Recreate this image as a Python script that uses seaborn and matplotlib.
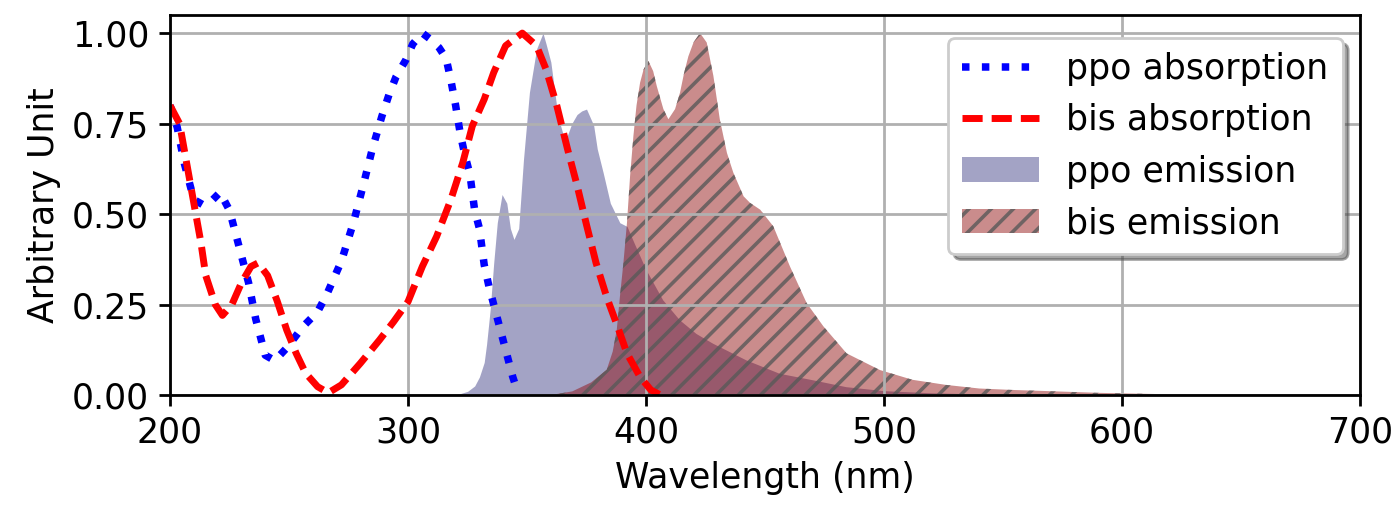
import numpy as np
import pandas as pd
import matplotlib
matplotlib.use("Agg")
import matplotlib.pyplot as plt
from matplotlib.colors import to_rgba
import seaborn as sns

# --- data (wavelength in nm, arbitrary units) ---
ppo_abs_x = [200, 203, 206, 210, 214, 218, 221, 225, 229, 233, 236, 238, 240, 244, 249,
             256, 262, 266, 272, 277, 281, 285, 289, 292, 295, 299, 302, 306, 309, 313,
             316, 318, 320, 322, 324, 326, 328, 330, 332, 334, 336, 338, 340, 342, 344, 345]
ppo_abs_y = [0.80, 0.74, 0.64, 0.54, 0.525, 0.54, 0.56, 0.51, 0.41, 0.31, 0.21, 0.16, 0.11,
             0.095, 0.13, 0.19, 0.23, 0.28, 0.37, 0.475, 0.575, 0.68, 0.77, 0.83, 0.88,
             0.925, 0.97, 1.00, 0.985, 0.96, 0.93, 0.87, 0.80, 0.72, 0.66, 0.61, 0.51, 0.46,
             0.36, 0.30, 0.25, 0.20, 0.15, 0.10, 0.05, 0.03]

bis_abs_x = [200, 204, 207, 210, 213, 215, 219, 222, 226, 230, 234, 237, 241, 245, 249, 253,
             257, 262, 266.5, 272, 280, 288, 294, 300, 306, 312, 318, 323, 327, 332, 336, 341,
             348, 354, 358, 362.5, 367, 371, 375, 379, 383.5, 388, 392, 397.5, 402, 406]
bis_abs_y = [0.80, 0.75, 0.64, 0.53, 0.42, 0.33, 0.25, 0.22, 0.25, 0.31, 0.355, 0.365, 0.33,
             0.26, 0.18, 0.115, 0.06, 0.023, 0.006, 0.028, 0.088, 0.152, 0.203, 0.258, 0.355,
             0.438, 0.54, 0.642, 0.743, 0.817, 0.891, 0.965, 1.0, 0.965, 0.90, 0.80, 0.68,
             0.58, 0.47, 0.365, 0.27, 0.19, 0.115, 0.05, 0.014, 0.0]

ppo_em_x = [320, 325, 328, 330, 332, 333, 334.5, 336, 337.5, 339.5, 341.5, 343, 344.5, 346.5,
            348.5, 351, 354, 356.7, 358, 360, 363, 366, 368.8, 371, 373, 375, 378, 379.5, 382,
            385, 389, 392, 395, 400, 407, 414, 421, 428, 435, 442, 456, 470, 484, 500, 520,
            540, 560, 600, 700]
ppo_em_y = [0, 0.01, 0.025, 0.05, 0.09, 0.14, 0.235, 0.365, 0.476, 0.554, 0.53, 0.46, 0.43,
            0.46, 0.65, 0.836, 0.956, 1.0, 0.97, 0.92, 0.77, 0.70, 0.75, 0.775, 0.785, 0.79,
            0.745, 0.68, 0.614, 0.53, 0.476, 0.466, 0.42, 0.346, 0.263, 0.208, 0.17, 0.143,
            0.12, 0.097, 0.06, 0.042, 0.023, 0.012, 0.006, 0.003, 0.001, 0, 0]

bis_em_x = [360, 369, 377, 383.5, 386, 387.7, 389, 390.5, 392, 393.3, 394.7, 396, 397.5, 399,
            401, 403, 404.5, 407.3, 409.4, 412.2, 414.3, 416, 417.8, 420, 422.7, 425.5, 428.3,
            431, 434, 436.7, 441, 443.7, 448, 453.5, 460.5, 467.5, 474.5, 484.3, 498.3, 512,
            526, 540, 554, 568, 590, 620, 700]
bis_em_y = [0, 0.01, 0.035, 0.07, 0.12, 0.18, 0.27, 0.365, 0.476, 0.605, 0.716, 0.80, 0.863,
            0.90, 0.923, 0.895, 0.854, 0.79, 0.762, 0.79, 0.836, 0.89, 0.936, 0.975, 1.0,
            0.974, 0.882, 0.762, 0.669, 0.614, 0.549, 0.531, 0.512, 0.466, 0.355, 0.254, 0.19,
            0.115, 0.069, 0.042, 0.028, 0.018, 0.014, 0.011, 0.006, 0.002, 0]

x_ticks = [200, 300, 400, 500, 600, 700]
y_ticks = [0.0, 0.25, 0.5, 0.75, 1.0]

# --- style ---
sns.set_style("ticks")
plt.rcParams.update({
    "font.family": ["DejaVu Sans"],
    "font.size": 12.5,
    "axes.edgecolor": "black",
    "axes.labelcolor": "black",
    "text.color": "black",
    "xtick.color": "black",
    "ytick.color": "black",
    "axes.linewidth": 1.0,
    "xtick.major.width": 1.0,
    "ytick.major.width": 1.0,
    "xtick.major.size": 4,
    "ytick.major.size": 4,
    "xtick.direction": "out",
    "ytick.direction": "out",
    "hatch.linewidth": 1.3,
})

fig, ax = plt.subplots(figsize=(6.975, 2.525), dpi=200)
fig.subplots_adjust(left=0.1219, right=0.9749, top=0.9703, bottom=0.2178)

df_ppo = pd.DataFrame({"x": ppo_abs_x, "y": ppo_abs_y})
df_bis = pd.DataFrame({"x": bis_abs_x, "y": bis_abs_y})

sns.lineplot(data=df_ppo, x="x", y="y", ax=ax, color="blue", lw=2.7,
             linestyle=":", label="ppo absorption", sort=False)
sns.lineplot(data=df_bis, x="x", y="y", ax=ax, color="red", lw=2.5,
             linestyle=(0, (2.9, 1.3)), label="bis absorption", sort=False)

ax.fill_between(ppo_em_x, 0, ppo_em_y, color="midnightblue", alpha=0.4,
                linewidth=0, label="ppo emission")
ax.fill_between(bis_em_x, 0, bis_em_y, facecolor=to_rgba("darkred", 0.45),
                edgecolor=(0.35, 0.35, 0.35, 0.8), hatch="///", linewidth=0,
                label="bis emission")

ax.set_xlim(200, 700)
ax.set_ylim(0, 1.05)
ax.set_xticks(x_ticks)
ax.set_yticks(y_ticks)
ax.set_yticklabels([f"{v:.2f}" for v in y_ticks])
ax.set_xlabel("Wavelength (nm)")
ax.set_ylabel("Arbitrary Unit")
ax.grid(True, color="#b0b0b0", lw=1.0)
ax.set_axisbelow("line")

for s in ax.spines.values():
    s.set_visible(True)

ax.legend(loc="upper right", bbox_to_anchor=(1.0, 0.985), shadow=True,
          fancybox=True, framealpha=1, fontsize=12.5, handlelength=2.2)

fig.savefig("out.png", dpi=200)
